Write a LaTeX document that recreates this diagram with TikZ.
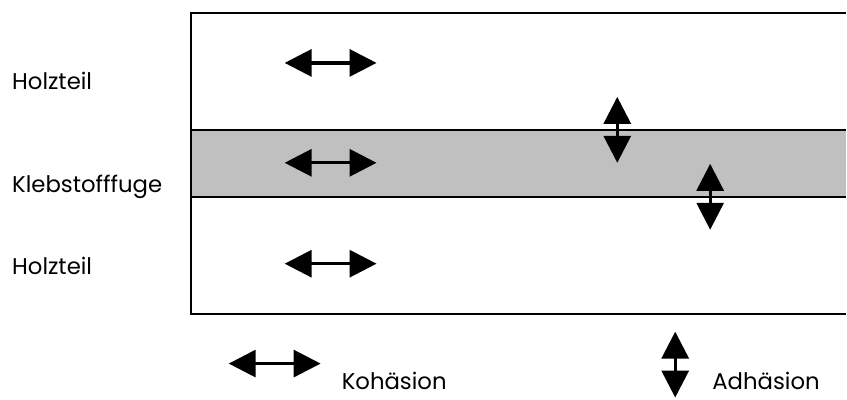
\documentclass[tikz,border=0pt]{standalone}
\usepackage{fontspec}
\setmainfont{Poppins}
\usetikzlibrary{arrows.meta}

\tikzset{
  kraft/.style={line width=3.2pt, {Triangle[length=27pt,width=27pt]}-{Triangle[length=27pt,width=27pt]}},
  beschriftung/.style={anchor=base west, inner sep=0pt, font=\fontsize{22.8}{28}\selectfont}
}

\begin{document}
\begin{tikzpicture}[x=1pt, y=-1pt, line join=miter]

  % ════ Klebstofffuge (grau) ════
  \fill[fill={rgb,255:red,192;green,192;blue,192}] (191,130) rectangle (847,197);
  \draw[line width=2pt] (191,130) -- (847,130);
  \draw[line width=2pt] (191,197) -- (847,197);

  % ════ Holzteile: Rahmen, rechts offen ════
  \draw[line width=1.8pt] (847,13) -- (191,13) -- (191,314) -- (847,314);

  % ════ Kohäsion (waagrecht) ════
  \coordinate (k1a) at (285,63);  \coordinate (k1b) at (377,63);
  \coordinate (k2a) at (285,163); \coordinate (k2b) at (377,163);
  \coordinate (k3a) at (285,264); \coordinate (k3b) at (377,264);
  \draw[kraft] (k1a) -- (k1b);
  \draw[kraft] (k2a) -- (k2b);
  \draw[kraft] (k3a) -- (k3b);

  % ════ Adhäsion (senkrecht) ════
  \coordinate (a1a) at (618,97);  \coordinate (a1b) at (618,163);
  \coordinate (a2a) at (711,164); \coordinate (a2b) at (711,230);
  \draw[kraft] (a1a) -- (a1b);
  \draw[kraft] (a2a) -- (a2b);

  % ════ Legende ════
  \coordinate (lka) at (229,364); \coordinate (lkb) at (321,364);
  \coordinate (laa) at (676,332); \coordinate (lab) at (676,398);
  \draw[kraft] (lka) -- (lkb);
  \draw[kraft] (laa) -- (lab);

  % ════ Beschriftungen ════
  \node[beschriftung] (holzoben)  at (12,90)  {Holzteil};
  \node[beschriftung] (fuge)      at (12,193) {Klebstofffuge};
  \node[beschriftung] (holzunten) at (12,275) {Holzteil};
  \node[beschriftung] (kohaesion) at (342,390) {Kohäsion};
  \node[beschriftung] (adhaesion) at (713,390) {Adhäsion};

  \path[use as bounding box] (0,0) rectangle (847,394);
\end{tikzpicture}
\end{document}
